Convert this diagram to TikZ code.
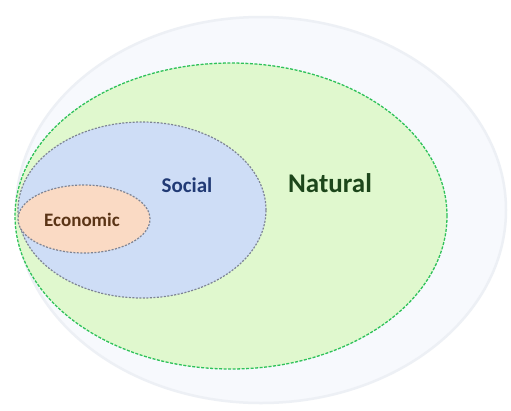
\documentclass[tikz,border=0pt]{standalone}
\usepackage{fontspec}
\setmainfont{Carlito}
\usetikzlibrary{shapes.geometric}
\definecolor{halofill}{HTML}{F7F9FD}
\definecolor{haloline}{HTML}{EDF0F5}
\definecolor{natfill}{HTML}{E0F8CE}
\definecolor{natline}{HTML}{2FC25A}
\definecolor{socfill}{HTML}{CEDDF6}
\definecolor{ecofill}{HTML}{FADAC4}
\definecolor{grayline}{HTML}{7E8494}
\definecolor{soctext}{HTML}{213A75}
\definecolor{nattext}{HTML}{1D461B}
\definecolor{ecotext}{HTML}{5A3416}
\begin{document}
\begin{tikzpicture}[x=1pt,y=-1pt]
\useasboundingbox[fill=white] (0,0) rectangle (511,410);
\node[draw=haloline, fill=halofill, line width=2.5pt, ellipse, inner sep=0pt, minimum width=490pt, minimum height=386pt] (halo) at (261,210) {};
\node[draw=natline, fill=natfill, line width=1.3pt, dash pattern=on 3pt off 1.5pt, ellipse, inner sep=0pt, minimum width=432pt, minimum height=306pt] (natural) at (231,216) {};
\node[draw=grayline, fill=socfill, line width=1.2pt, dash pattern=on 2pt off 1.5pt, ellipse, inner sep=0pt, minimum width=248pt, minimum height=176pt] (social) at (142,210) {};
\node[draw=grayline, fill=ecofill, line width=1.2pt, dash pattern=on 2pt off 1.5pt, ellipse, inner sep=0pt, minimum width=132pt, minimum height=68pt] (economic) at (84,219) {};

\node[text=soctext, font=\fontsize{21}{21}\selectfont\bfseries] (soclabel) at (187,185) {Social};
\node[text=nattext, font=\fontsize{27}{27}\selectfont\bfseries] (natlabel) at (330,183) {Natural};
\node[text=ecotext, font=\fontsize{19}{19}\selectfont\bfseries] (ecolabel) at (82,220) {Economic};
\end{tikzpicture}
\end{document}
